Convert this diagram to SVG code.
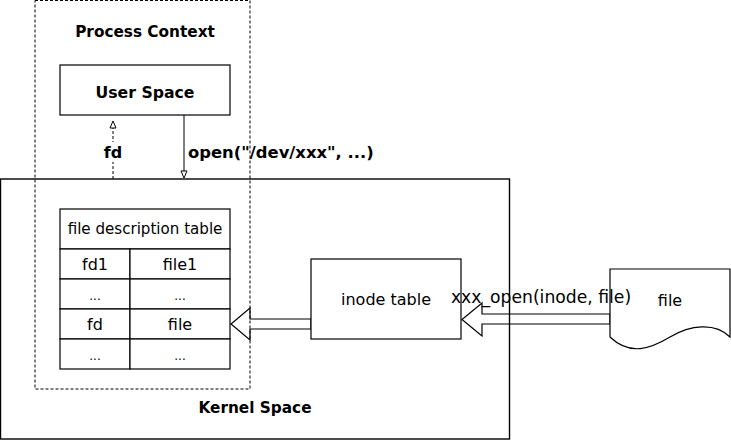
<svg xmlns="http://www.w3.org/2000/svg" width="731" height="441" viewBox="0 0 731 441">
<style>
.box{fill:none;stroke:#000;stroke-width:1.2}
.cell{fill:#fff;stroke:#000;stroke-width:1.2}
.dash{fill:none;stroke:#000;stroke-width:1;stroke-dasharray:3 2}
.b{font-family:"DejaVu Sans",sans-serif;font-weight:bold;font-size:15.3px;text-anchor:middle;dominant-baseline:central;fill:#000}
.t{font-family:"DejaVu Sans",sans-serif;font-size:16px;text-anchor:middle;dominant-baseline:central;fill:#000}
.s{font-size:12px}
.flex{fill:#fff;stroke:#000;stroke-width:1.2;stroke-linejoin:miter}
</style>
<rect width="731" height="441" fill="#fff"/>
<g id="connectors">
  <path class="flex" d="M311,319 H250 V308 L231,324 L250,340 V329 H311 Z"/>
  <path class="flex" d="M610,314 H482 V303 L462,319.5 L482,336 V324 H610 Z"/>
  <line class="dash" x1="113" y1="179" x2="113" y2="127"/>
  <path d="M113,121 L110,128 L116,128 Z" fill="#fff" stroke="#000" stroke-width="1"/>
  <line x1="184" y1="115" x2="184" y2="172" stroke="#000" stroke-width="1"/>
  <path d="M184,178 L181,171 L187,171 Z" fill="#fff" stroke="#000" stroke-width="1"/>
</g>
<g id="kernel-space">
  <rect class="box" x="0.5" y="179" width="509" height="260" style="stroke-width:1.4"/>
  <text class="b" x="255" y="408">Kernel Space</text>
</g>
<g id="process-context">
  <rect class="dash" x="35" y="0.5" width="215" height="388.5"/>
  <text class="b" x="145" y="32">Process Context</text>
</g>
<g id="user-space">
  <rect class="cell" x="60" y="65" width="170" height="50"/>
  <text class="b" x="145" y="92" style="font-size:15.7px">User Space</text>
</g>
<g id="fd-label">
  <rect x="103" y="142" width="20" height="20" fill="#fff"/>
  <text class="b" x="113" y="152" style="font-size:16px">fd</text>
</g>
<g id="open-label">
  <text class="b" x="188" y="152" style="font-size:16.4px;text-anchor:start">open("/dev/xxx", ...)</text>
</g>
<g id="file-description-table">
  <rect class="cell" x="60" y="209" width="170" height="40"/>
  <text class="t" x="145" y="229" style="font-size:15.1px">file description table</text>
  <rect class="cell" x="60" y="249" width="70" height="30"/>
  <rect class="cell" x="130" y="249" width="100" height="30"/>
  <rect class="cell" x="60" y="279" width="70" height="30"/>
  <rect class="cell" x="130" y="279" width="100" height="30"/>
  <rect class="cell" x="60" y="309" width="70" height="30"/>
  <rect class="cell" x="130" y="309" width="100" height="30"/>
  <rect class="cell" x="60" y="339" width="70" height="30"/>
  <rect class="cell" x="130" y="339" width="100" height="30"/>
  <text class="t" x="95" y="264">fd1</text>
  <text class="t" x="180" y="264">file1</text>
  <text class="t s" x="95" y="296">...</text>
  <text class="t s" x="180" y="296">...</text>
  <text class="t" x="95" y="324">fd</text>
  <text class="t" x="180" y="324">file</text>
  <text class="t s" x="95" y="356">...</text>
  <text class="t s" x="180" y="356">...</text>
</g>
<g id="inode-table">
  <rect class="cell" x="311" y="259" width="150" height="80"/>
  <text class="t" x="386" y="299">inode table</text>
</g>
<g id="file">
  <path class="cell" d="M610,269 H730 V337 C715,322 690,325 670,337 S630,356 610,337 Z"/>
  <text class="t" x="670" y="300">file</text>
</g>
<g id="xxx-open-label">
  <text class="t" x="541" y="297" style="font-size:17.2px">xxx_open(inode, file)</text>
</g>
</svg>
